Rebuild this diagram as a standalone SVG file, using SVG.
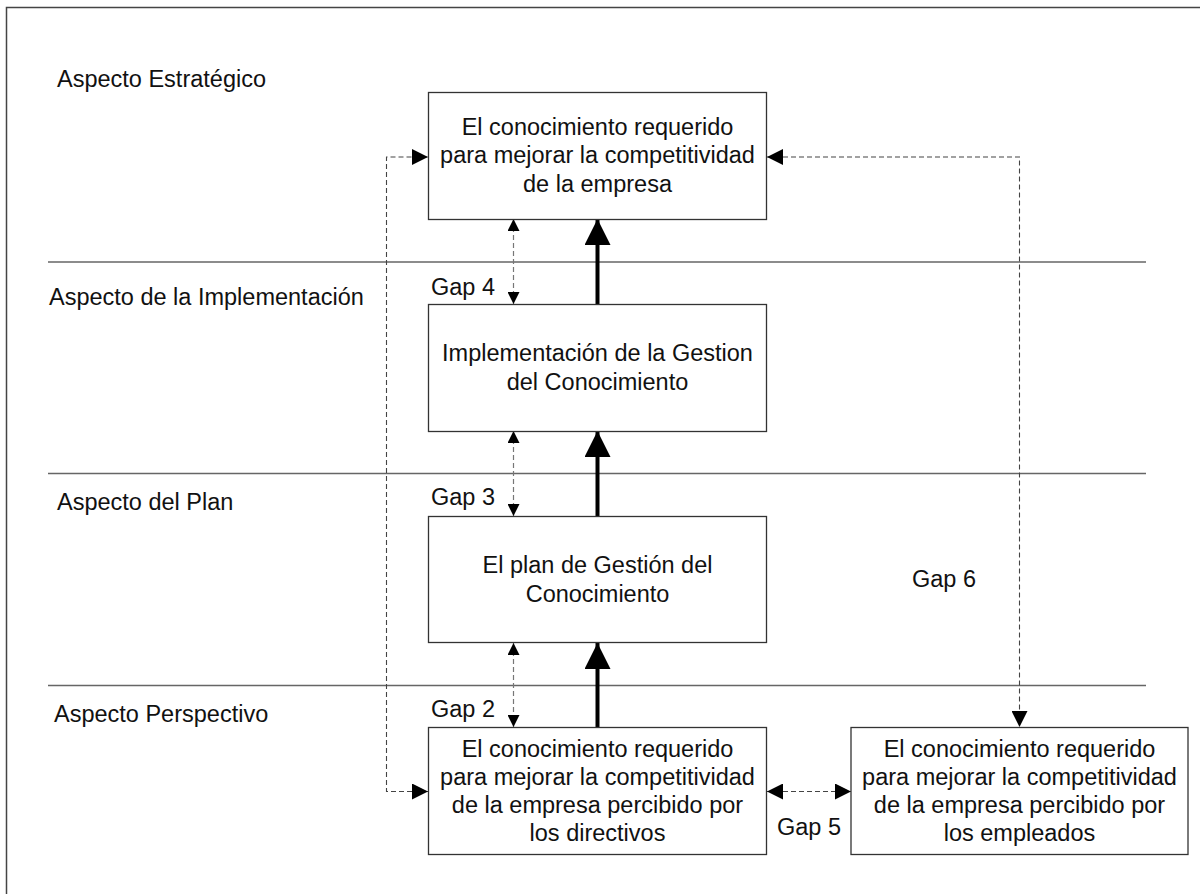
<svg xmlns="http://www.w3.org/2000/svg" width="1200" height="894" viewBox="0 0 1200 894">
<style>
text{font-family:"Liberation Sans",Arial,sans-serif;font-size:23.5px;fill:#111}
.c{text-anchor:middle}
.box{fill:#fff;stroke:#333;stroke-width:1.3}
.sep{stroke:#666;stroke-width:1.3;fill:none}
.thick{stroke:#000;stroke-width:4;fill:none}
.dg{stroke:#777;stroke-width:1.2;stroke-dasharray:5,3;fill:none}
.dl{stroke:#444;stroke-width:1.1;stroke-dasharray:5,3;fill:none}
</style>
<defs>
<marker id="big" viewBox="0 0 26 26" refX="26" refY="13" markerWidth="26" markerHeight="26" markerUnits="userSpaceOnUse" orient="auto"><path d="M0,0L26,13L0,26z" fill="#000"/></marker>
<marker id="sm" viewBox="0 0 12 12" refX="12" refY="6" markerWidth="12" markerHeight="12" markerUnits="userSpaceOnUse" orient="auto-start-reverse"><path d="M0,0L12,6L0,12z" fill="#000"/></marker>
<marker id="md" viewBox="0 0 16 16" refX="16" refY="8" markerWidth="16" markerHeight="16" markerUnits="userSpaceOnUse" orient="auto-start-reverse"><path d="M0,0L16,8L0,16z" fill="#000"/></marker>
</defs>
<rect x="6.5" y="7.5" width="1210" height="910" fill="#fff" stroke="#444" stroke-width="1.5"/>
<g id="separators">
<line class="sep" x1="48" y1="262" x2="1146" y2="262"/>
<line class="sep" x1="48" y1="473.5" x2="1146" y2="473.5"/>
<line class="sep" x1="48" y1="685.5" x2="1146" y2="685.5"/>
</g>
<g id="labels">
<text x="57" y="87">Aspecto Estratégico</text>
<text x="49" y="305">Aspecto de la Implementación</text>
<text x="57" y="510">Aspecto del Plan</text>
<text x="54" y="722">Aspecto Perspectivo</text>
<text x="431" y="295">Gap 4</text>
<text x="431" y="505">Gap 3</text>
<text x="431" y="717">Gap 2</text>
<text x="777" y="835">Gap 5</text>
<text x="912" y="587">Gap 6</text>
</g>
<g id="connectors">
<line class="thick" x1="597.5" y1="304" x2="597.5" y2="219" marker-end="url(#big)"/>
<line class="thick" x1="597.5" y1="516" x2="597.5" y2="431" marker-end="url(#big)"/>
<line class="thick" x1="597.5" y1="727" x2="597.5" y2="643" marker-end="url(#big)"/>
<line class="dg" x1="513.5" y1="219" x2="513.5" y2="304" marker-start="url(#sm)" marker-end="url(#sm)"/>
<line class="dg" x1="513.5" y1="431" x2="513.5" y2="516" marker-start="url(#sm)" marker-end="url(#sm)"/>
<line class="dg" x1="513.5" y1="643" x2="513.5" y2="727" marker-start="url(#sm)" marker-end="url(#sm)"/>
<path class="dl" d="M428,791.5H386.5V157H428" marker-start="url(#md)" marker-end="url(#md)"/>
<path class="dl" d="M767,157H1019.5V727" marker-start="url(#md)" marker-end="url(#md)"/>
<line class="dl" x1="767" y1="791.5" x2="851" y2="791.5" marker-start="url(#md)" marker-end="url(#md)"/>
</g>
<g id="n1"><rect class="box" x="428.5" y="92.5" width="338" height="127"/>
<text class="c" x="597.5" y="135">El conocimiento requerido</text>
<text class="c" x="597.5" y="163.3">para mejorar la competitividad</text>
<text class="c" x="597.5" y="191.6">de la empresa</text></g>
<g id="n2"><rect class="box" x="428.5" y="304.5" width="338" height="127"/>
<text class="c" x="597.5" y="361.4">Implementación de la Gestion</text>
<text class="c" x="597.5" y="389.7">del Conocimiento</text></g>
<g id="n3"><rect class="box" x="428.5" y="516.5" width="338" height="126"/>
<text class="c" x="597.5" y="573.3">El plan de Gestión del</text>
<text class="c" x="597.5" y="601.6">Conocimiento</text></g>
<g id="n4"><rect class="box" x="428.5" y="727.5" width="338" height="127"/>
<text class="c" x="597.5" y="756.5">El conocimiento requerido</text>
<text class="c" x="597.5" y="784.8">para mejorar la competitividad</text>
<text class="c" x="597.5" y="813.1">de la empresa percibido por</text>
<text class="c" x="597.5" y="841.4">los directivos</text></g>
<g id="n5"><rect class="box" x="851" y="727.5" width="337" height="127"/>
<text class="c" x="1019.5" y="756.5">El conocimiento requerido</text>
<text class="c" x="1019.5" y="784.8">para mejorar la competitividad</text>
<text class="c" x="1019.5" y="813.1">de la empresa percibido por</text>
<text class="c" x="1019.5" y="841.4">los empleados</text></g>
</svg>
